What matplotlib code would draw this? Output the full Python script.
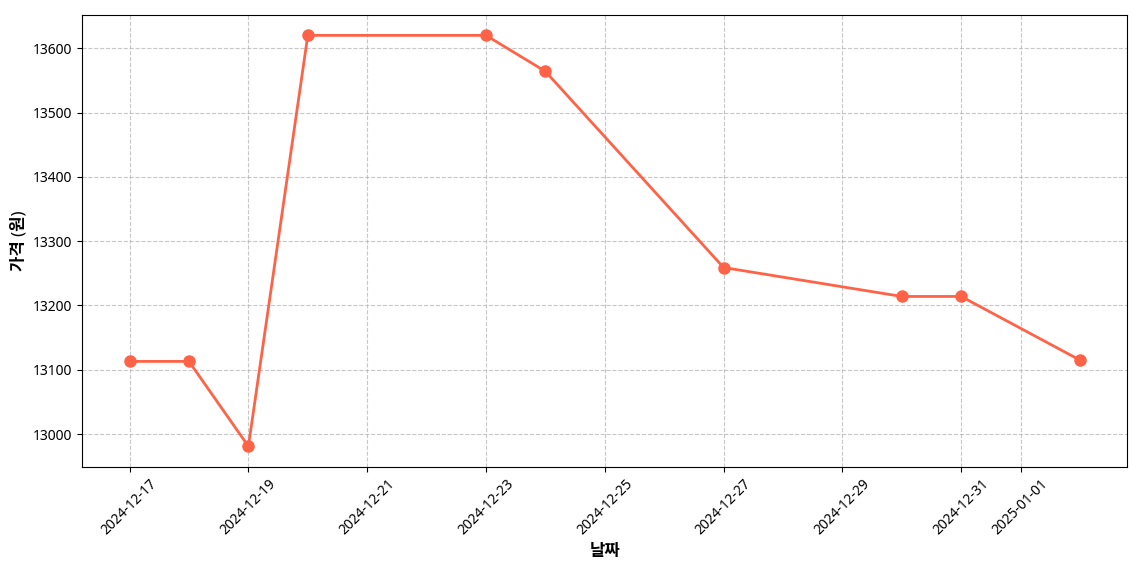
import numpy as np
import pandas as pd
import matplotlib
matplotlib.use("Agg")
import matplotlib.pyplot as plt

plt.rcParams['font.family'] = ['Noto Sans', 'Noto Sans CJK KR', 'DejaVu Sans']
plt.rcParams['axes.unicode_minus'] = False

dates = ["2024-12-17", "2024-12-18", "2024-12-19", "2024-12-20", "2024-12-23",
         "2024-12-24", "2024-12-27", "2024-12-30", "2024-12-31", "2025-01-02"]
prices = [13113, 13113, 12981, 13620, 13620, 13564, 13259, 13214, 13214, 13115]

df = pd.DataFrame({"date": pd.to_datetime(dates), "price": prices})

fig, ax = plt.subplots(figsize=(11.4, 5.7), dpi=100)
ax.plot(df["date"], df["price"], marker="o", color="#FF6347", linewidth=2, markersize=8)
ax.grid(True, linestyle="--", alpha=0.7)
ax.set_xlabel("날짜", fontsize=12, fontweight="bold")
ax.set_ylabel("가격 (원)", fontsize=12, fontweight="bold")
plt.xticks(rotation=45)
plt.tight_layout()
fig.subplots_adjust(left=0.072, right=0.989, top=0.974, bottom=0.181)
plt.savefig("out.png")
